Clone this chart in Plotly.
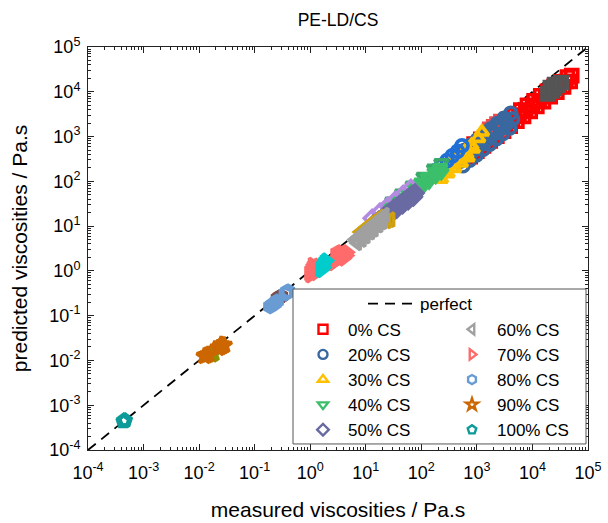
import plotly.graph_objects as go

# ---- measured vs. predicted viscosities (Pa.s) per chitosan content ----
cs0_meas = [890, 1175, 1550, 2040, 2690, 3550, 4680, 6170, 8130, 10700, 14100, 18600, 24500, 32400, 42700, 51000,
            760, 1000, 1320, 1740, 2290, 3020, 3980, 5250, 6920, 9120, 12000, 15800, 20900, 27500, 36300, 47900,
            820, 1080, 1430, 1890, 2490, 3290, 4340, 5730, 7570, 10000, 13200, 17400, 23000, 30300, 40000]
cs0_pred = [676, 870, 1120, 1450, 1860, 2400, 3020, 3890, 5010, 6310, 8130, 10200, 13200, 16600, 21400, 22900,
            355, 468, 617, 794, 1020, 1320, 1700, 2190, 2820, 3630, 4680, 6030, 7760, 9770, 12900, 17000,
            494, 631, 813, 1050, 1350, 1740, 2240, 2880, 3720, 4790, 6170, 7940, 10200, 13200, 17000]
cs0b_meas = [1700, 2000, 2300, 2700, 1850, 2400]
cs0b_pred = [1450, 1650, 1900, 2150, 1250, 1500]
cs0c_meas = [19000, 22000, 25000, 29000, 33000, 21000, 25000]
cs0c_pred = [9000, 10500, 12000, 14000, 16000, 12500, 14500]

cs20_meas = [450, 590, 780, 1020, 1350, 1780, 2340, 3090, 4070, 500, 660, 870, 1150, 1510, 2000, 2630, 3470, 4370,
             480, 630, 830, 1090, 1430, 1890, 2480, 3270, 560, 740, 980, 1300, 1700, 2250, 2950, 3900]
cs20_pred = [370, 490, 650, 850, 1120, 1480, 1950, 2570, 3310, 280, 370, 490, 650, 850, 1120, 1480, 1950, 2450,
             333, 437, 575, 755, 990, 1310, 1720, 2270, 223, 295, 390, 518, 677, 896, 1175, 1550]
cs20b_meas = [180, 230, 290, 360, 450, 540]
cs20b_pred = [175, 225, 290, 370, 470, 620]

cs30_meas = [200, 263, 347, 457, 603, 794, 1050, 1230, 224, 295, 389, 513, 676, 212, 280, 368, 485, 640, 840]
cs30_pred = [151, 200, 263, 347, 457, 631, 912, 1260, 112, 148, 195, 257, 339, 134, 177, 232, 306, 404, 530]

cs40_meas = [25, 33, 44, 58, 76, 100, 132, 174, 219, 79, 105, 138, 182, 229, 28, 37, 49, 65, 86, 113, 150, 198]
cs40_pred = [26, 34, 44, 56, 74, 95, 126, 162, 200, 56, 74, 98, 129, 158, 23.3, 31, 41, 54, 71, 93, 124, 163]
cs40b_meas = [30, 45, 70, 110, 170, 230]
cs40b_pred = [36, 54, 82, 128, 195, 260]

cs50_meas = [13.5, 17, 21, 26, 32, 40, 50, 62, 77, 20, 28, 36, 46, 58, 72, 15, 19, 23.5, 29, 36, 45, 56, 69]
cs50_pred = [11, 13.5, 16.5, 20, 24.5, 30, 37, 45, 55, 13.5, 18.5, 24, 30, 37, 45, 11.5, 14.5, 18, 22, 27, 33, 41, 50]
cs50b_meas = [13, 18, 25, 34, 47, 65]
cs50b_pred = [15, 20.5, 28, 37.5, 51, 70]

cs60_meas = [6.5, 7.5, 8.8, 10, 12, 14, 16, 19, 22, 7, 8.5, 10, 12, 14, 17, 20, 6.8, 8, 9.4, 11, 13, 15, 17.5, 20.5]
cs60_pred = [5, 5.8, 6.8, 7.8, 9.5, 11, 12.5, 15, 17.5, 4.2, 5, 6, 7.3, 8.5, 10.5, 12.5,
             4.6, 5.4, 6.3, 7.5, 9, 10.5, 12.2, 14.3]
cs60b_meas = [8, 10, 12.5, 15, 18, 24, 28]
cs60b_pred = [7.4, 9.2, 11.5, 13.5, 16, 13, 14]

cs70_meas = [0.95, 1.0, 1.05, 1.12, 1.2, 1.3, 1.4, 1.1, 1.0, 1.25,
             2.6, 2.9, 3.3, 3.7, 4.2, 4.6, 2.8, 3.2, 3.6, 4.0, 4.5, 3.0, 3.9]
cs70_pred = [0.88, 1.0, 1.12, 0.92, 1.05, 1.2, 1.3, 1.35, 0.8, 0.9,
             1.5, 1.7, 1.9, 2.1, 2.4, 2.6, 2.2, 2.4, 2.6, 1.9, 2.2, 2.0, 2.35]
cs70b_meas = [1.5, 1.6, 1.7, 1.8, 1.95, 1.6, 1.75]
cs70b_pred = [1.1, 1.25, 1.4, 1.55, 1.7, 1.05, 1.2]

cs80_meas = [0.19, 0.21, 0.23, 0.25, 0.36, 0.38, 0.4]
cs80_pred = [0.16, 0.175, 0.19, 0.21, 0.31, 0.34, 0.35]
cs80b_meas = [0.26, 0.28, 0.30]
cs80b_pred = [0.24, 0.26, 0.27]

cs90_meas = [0.0125, 0.0135, 0.0145, 0.022, 0.024, 0.026, 0.028, 0.025]
cs90_pred = [0.0125, 0.013, 0.0135, 0.019, 0.020, 0.021, 0.022, 0.0225]
cs90b_meas = [0.0165, 0.018]
cs90b_pred = [0.0135, 0.0145]

cs100_meas = [4.3e-4, 4.5e-4, 4.7e-4, 4.4e-4]
cs100_pred = [4.3e-4, 4.4e-4, 4.6e-4, 4.6e-4]

perfect = [1e-4, 1e5]
decades = list(range(-4, 6))
tick_labels = [f"10<sup>{d}</sup>" for d in decades]

FONT = "Liberation Sans, Arial, sans-serif"
MSIZE = 12      # data markers
MLINE = 3.6
LSIZE = 9       # legend symbols
LLINE = 2.4

fig = go.Figure()

# parity line
fig.add_trace(go.Scatter(
    x=perfect, y=perfect, mode="lines", name="perfect",
    line=dict(color="black", width=1.8, dash="10px,7px"),
    showlegend=True, legend="legend",
))


def add_series(x, y, name, symbol, color):
    fig.add_trace(go.Scatter(
        x=x, y=y, mode="markers", name=name,
        marker=dict(symbol=symbol, size=MSIZE, color=color,
                    line=dict(color=color, width=MLINE)),
        showlegend=False, legendgroup=name,
    ))


def add_key(name, symbol, color, legend, rank):
    # legend entry only (no points drawn)
    fig.add_trace(go.Scatter(
        x=[None], y=[None], mode="markers", name=name,
        marker=dict(symbol=symbol, size=LSIZE, color=color,
                    line=dict(color=color, width=LLINE)),
        showlegend=True, legend=legend, legendrank=rank, legendgroup=name,
    ))


# drawing order (later = on top)
add_series(cs0_meas, cs0_pred, "0% CS", "square-open", "#ff0000")
add_series(cs0b_meas, cs0b_pred, "0% CS", "square-open", "#ee4b4b")
add_series(cs20_meas, cs20_pred, "20% CS", "circle-open", "#38689f")
add_series(cs30_meas, cs30_pred, "30% CS", "triangle-up-open", "#ffc000")
add_series(cs20b_meas, cs20b_pred, "20% CS", "circle-open", "#1f6fd6")
add_series(cs40b_meas, cs40b_pred, "40% CS", "triangle-down-open", "#3aa86a")
add_series(cs40_meas, cs40_pred, "40% CS", "triangle-down-open", "#3cbf6b")
add_series(cs50b_meas, cs50b_pred, "50% CS", "diamond-open", "#b38be0")
add_series(cs50_meas, cs50_pred, "50% CS", "diamond-open", "#6a6aa3")
add_series(cs60b_meas, cs60b_pred, "60% CS", "triangle-left-open", "#cfa010")
add_series(cs60_meas, cs60_pred, "60% CS", "triangle-left-open", "#a0a0a0")
add_series(cs0c_meas, cs0c_pred, "0% CS", "square-open", "#555555")
add_series(cs70_meas, cs70_pred, "70% CS", "triangle-right-open", "#ff6b6b")
add_series(cs70b_meas, cs70b_pred, "70% CS", "triangle-right-open", "#00cccc")
add_series(cs80b_meas, cs80b_pred, "80% CS", "hexagon-open", "#7b4b4b")
add_series(cs80_meas, cs80_pred, "80% CS", "hexagon-open", "#6a9cd4")
add_series(cs90b_meas, cs90b_pred, "90% CS", "star-open", "#8f9000")
add_series(cs90_meas, cs90_pred, "90% CS", "star-open", "#cc6600")
add_series(cs100_meas, cs100_pred, "100% CS", "pentagon-open", "#0f9a9a")

# two-column key
add_key("0% CS", "square-open", "#ff0000", "legend2", 1)
add_key("20% CS", "circle-open", "#38689f", "legend2", 2)
add_key("30% CS", "triangle-up-open", "#ffc000", "legend2", 3)
add_key("40% CS", "triangle-down-open", "#3cbf6b", "legend2", 4)
add_key("50% CS", "diamond-open", "#6a6aa3", "legend2", 5)
add_key("60% CS", "triangle-left-open", "#a0a0a0", "legend3", 6)
add_key("70% CS", "triangle-right-open", "#ff6b6b", "legend3", 7)
add_key("80% CS", "hexagon-open", "#6a9cd4", "legend3", 8)
add_key("90% CS", "star-open", "#cc6600", "legend3", 9)
add_key("100% CS", "pentagon-open", "#0f9a9a", "legend3", 10)

minor_vals = [m * 10.0 ** d for d in decades[:-1] for m in range(2, 10)]

axis_common = dict(
    type="log", range=[-4, 5], automargin=False,
    tickmode="array", tickvals=[10.0 ** d for d in decades], ticktext=tick_labels,
    ticks="inside", ticklen=6, tickwidth=1, tickcolor="#222",
    minor=dict(tickmode="array", tickvals=minor_vals, ticks="inside", ticklen=3,
               tickwidth=1, tickcolor="#222", showgrid=False),
    showline=True, linecolor="#222", linewidth=1, mirror="allticks",
    showgrid=False, zeroline=False,
    tickfont=dict(family=FONT, size=18, color="black"),
)

legend_common = dict(
    bgcolor="rgba(0,0,0,0)", borderwidth=0, orientation="v",
    font=dict(family=FONT, size=17, color="black"),
    xanchor="left", yanchor="top", tracegroupgap=0, itemclick=False, itemdoubleclick=False,
)

fig.update_layout(
    width=608, height=523,
    showlegend=True,
    margin=dict(l=88, r=20, t=47, b=73, autoexpand=False),
    paper_bgcolor="white", plot_bgcolor="white",
    title=dict(text="PE-LD/CS", x=338 / 608, xanchor="center", y=1 - 20 / 523, yanchor="middle",
               font=dict(family=FONT, size=17.5, color="black")),
    xaxis=dict(axis_common, ticklabelstandoff=6,
               title=dict(text="measured viscosities / Pa.s", standoff=20,
                          font=dict(family=FONT, size=21, color="black"))),
    yaxis=dict(axis_common, ticklabelstandoff=3,
               title=dict(text="predicted viscosities / Pa.s",
                          font=dict(family=FONT, size=21, color="black"))),
    legend=dict(legend_common, x=0.55, y=0.407, itemwidth=47),
    legend2=dict(legend_common, x=0.42, y=0.343, itemwidth=40),
    legend3=dict(legend_common, x=0.718, y=0.343, itemwidth=40),
    shapes=[dict(type="rect", xref="paper", yref="paper", x0=0.41, x1=0.996, y0=0.015, y1=0.3995,
                 line=dict(color="#555555", width=1), fillcolor="white", layer="above")],
)

fig.write_html("out.html")
